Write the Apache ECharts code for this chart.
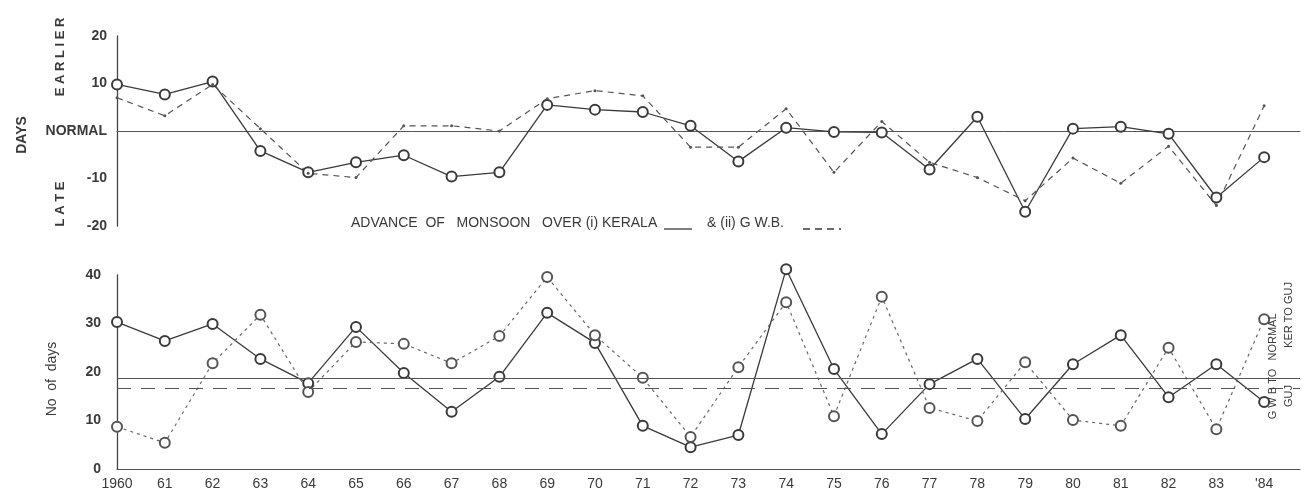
<!DOCTYPE html>
<html><head><meta charset="utf-8">
<script src="https://cdn.jsdelivr.net/npm/echarts@6/dist/echarts.min.js"></script>
<style>html,body{margin:0;padding:0;background:#fff}#c{width:1304px;height:491px}</style>
</head><body><div id="c"></div>
<script>
const years = [1960,1961,1962,1963,1964,1965,1966,1967,1968,1969,1970,1971,1972,1973,1974,1975,1976,1977,1978,1979,1980,1981,1982,1983,1984];
// Advance of monsoon (days, + earlier / - late)
const keralaAdvance = [9.8,7.7,10.4,-4.2,-8.7,-6.6,-5.1,-9.6,-8.7,5.5,4.5,4.0,1.1,-6.4,0.7,-0.2,-0.3,-8.1,3.0,-17,0.5,0.9,-0.6,-14,-5.5];
const gwbAdvance = [7.0,3.2,9.8,0.5,-8.9,-9.8,1.1,1.1,0.0,6.8,8.5,7.4,-3.4,-3.4,4.7,-8.7,2.0,-6.6,-9.8,-14.7,-5.7,-11,-3.2,-15.7,5.3];
// Number of days
const kerToGuj = [30.3,26.4,29.9,22.7,17.7,29.3,19.8,11.8,19.0,32.2,26.0,8.9,4.5,7.0,41.2,20.6,7.2,17.5,22.7,10.3,21.6,27.6,14.8,21.6,13.8];
const gwbToGuj = [8.7,5.4,21.8,31.8,15.9,26.2,25.8,21.8,27.4,39.6,27.6,18.8,6.6,21.0,34.4,10.9,35.5,12.6,9.9,22.0,10.1,8.9,25.0,8.2,30.9];
const normalKerToGuj = 18.8;
const normalGwbToGuj = 16.7;
const topTicks = {20:'20',10:'10',0:'NORMAL','-10':'-10','-20':'-20'};

const ink = '#3a3a3a';
const font = 'Liberation Sans';
const pair = a => years.map((y,i)=>[y,a[i]]);
const xFmt = v => { if (Math.abs(v-Math.round(v))>1e-6) return ''; if (v===1960) return '1960'; if (v===1984) return "'84"; return String(v).slice(2); };
const vtext = (x,y,text,f) => ({type:'text',x:x,y:y,rotation:Math.PI/2,z:100,style:{text:text,font:f,fill:ink,textAlign:'center',textVerticalAlign:'middle'}});

const chart = echarts.init(document.getElementById('c'));
chart.setOption({
  animation:false,
  backgroundColor:'#fff',
  textStyle:{fontFamily:font,color:ink},
  grid:[
    {left:117,right:4,top:36,bottom:265},
    {left:117,right:4,top:275,bottom:22}
  ],
  xAxis:[
    {gridIndex:0,type:'value',min:1960,max:1984.75,interval:1,
     axisLine:{show:true,onZero:true,lineStyle:{color:'#555',width:1}},
     axisTick:{show:false},axisLabel:{show:false},splitLine:{show:false}},
    {gridIndex:1,type:'value',min:1960,max:1984.75,interval:1,
     axisLine:{show:true,lineStyle:{color:'#555',width:1.2}},
     axisTick:{show:false},splitLine:{show:false},
     axisLabel:{formatter:xFmt,color:ink,fontSize:14,margin:8,fontFamily:font}}
  ],
  yAxis:[
    {gridIndex:0,type:'value',min:-20,max:20,interval:10,
     axisLine:{show:true,lineStyle:{color:'#444',width:1.3}},
     axisTick:{show:false},splitLine:{show:false},
     axisLabel:{formatter:v=>topTicks[v]||'',color:ink,fontSize:14,fontWeight:'bold',margin:10,fontFamily:font}},
    {gridIndex:1,type:'value',min:0,max:40,interval:10,
     axisLine:{show:true,lineStyle:{color:'#444',width:1.3}},
     axisTick:{show:false},splitLine:{show:false},
     axisLabel:{color:ink,fontSize:14,fontWeight:'bold',margin:16,fontFamily:font}}
  ],
  series:[
    {type:'line',xAxisIndex:0,yAxisIndex:0,data:pair(keralaAdvance),clip:false,
     symbol:'emptyCircle',symbolSize:10,lineStyle:{color:ink,width:1.3},
     itemStyle:{color:ink,borderWidth:1.2}},
    {type:'line',xAxisIndex:0,yAxisIndex:0,data:pair(gwbAdvance),clip:false,
     symbol:'circle',symbolSize:3,lineStyle:{color:'#555',width:1.2,type:[6,5]},
     itemStyle:{color:'#555'}},
    {type:'line',xAxisIndex:1,yAxisIndex:1,data:pair(kerToGuj),clip:false,
     symbol:'emptyCircle',symbolSize:10,lineStyle:{color:ink,width:1.3},
     itemStyle:{color:ink,borderWidth:1.2},
     markLine:{silent:true,symbol:'none',label:{show:false},
       lineStyle:{color:'#555',width:1.1,type:'solid'},data:[{yAxis:normalKerToGuj}]}},
    {type:'line',xAxisIndex:1,yAxisIndex:1,data:pair(gwbToGuj),clip:false,
     symbol:'emptyCircle',symbolSize:10,lineStyle:{color:'#666',width:1.2,type:[3,4]},
     itemStyle:{color:'#555',borderWidth:1.2},
     markLine:{silent:true,symbol:'none',label:{show:false},
       lineStyle:{color:'#555',width:1.2,type:[14,10]},data:[{yAxis:normalGwbToGuj}]}}
  ],
  graphic:[
    vtext(22,135,'DAYS','bold 14px '+font),
    vtext(60,57,'E A R L I E R','bold 13px '+font),
    vtext(60,204,'L A T E','bold 13px '+font),
    vtext(52,379,'No  of  days','14px '+font),
    {type:'text',x:351,y:223,style:{text:'ADVANCE  OF   MONSOON   OVER (i) KERALA',font:'14px '+font,fill:ink,textVerticalAlign:'middle'}},
    {type:'line',shape:{x1:664,y1:229,x2:692,y2:229},style:{stroke:ink,lineWidth:1.3}},
    {type:'text',x:707,y:223,style:{text:'& (ii) G W.B.',font:'14px '+font,fill:ink,textVerticalAlign:'middle'}},
    {type:'line',shape:{x1:803,y1:229,x2:841,y2:229},style:{stroke:ink,lineWidth:1.3,lineDash:[7,5]}},
    vtext(1273,337,'NORMAL','11px '+font),
    vtext(1273,394,'G W B TO','11px '+font),
    vtext(1289,315,'KER TO GUJ','11px '+font),
    vtext(1289,396,'GUJ','11px '+font)
  ]
});
</script></body></html>
